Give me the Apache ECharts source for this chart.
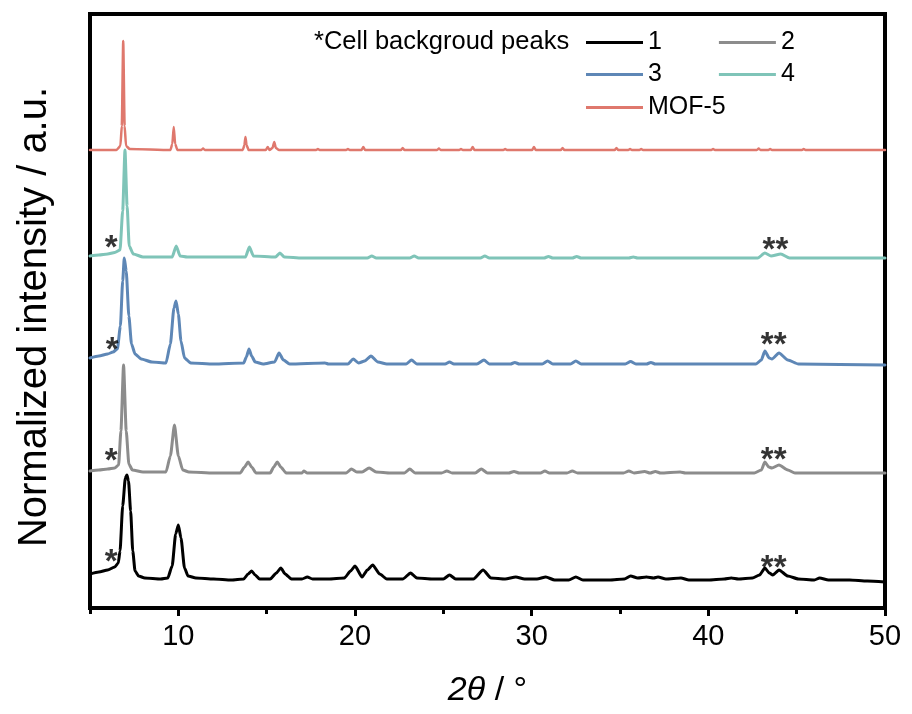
<!DOCTYPE html>
<html>
<head>
<meta charset="utf-8">
<script src="https://cdn.jsdelivr.net/npm/echarts@6/dist/echarts.min.js"></script>
<style>html,body{margin:0;padding:0;background:#fff}#c{width:912px;height:714px}</style>
</head>
<body>
<div id="c"></div>
<script>
// x: 2θ (deg); y: stacked normalized intensity (a.u., offsets included)
var sample1 = [[5,32],[5.5,34],[6,36],[6.4,39],[6.6,43],[6.7,55],[6.85,100],[7.0,128],[7.09,131],[7.18,125],[7.3,95],[7.42,55],[7.55,35],[7.75,30],[8.1,28],[9,27],[9.4,28],[9.65,40],[9.85,72],[10.0,81],[10.15,68],[10.35,38],[10.55,30],[11,28],[12,27],[13,26],[13.7,27],[13.95,32],[14.15,35],[14.35,31],[14.6,27],[15.2,27],[15.55,33],[15.8,38],[16.05,32],[16.4,27],[17,27],[17.3,29],[17.6,27],[18.5,27],[19.4,28],[19.75,35],[20.0,40],[20.4,29],[20.7,36],[21.0,41],[21.4,32],[21.8,27],[22.7,27],[23.15,33],[23.5,28],[24.4,27],[25.0,27],[25.35,31],[25.7,27],[26.7,27],[27.25,36],[27.7,28],[28.5,27],[29.1,29],[29.6,27],[30.3,27],[30.8,29],[31.3,26],[32.1,26],[32.5,29],[32.9,26],[34.4,26],[35.25,27],[35.6,30],[36.0,28],[36.5,29],[36.9,28],[37.15,29],[37.6,27],[38.45,28],[38.9,26],[40,26],[40.9,27],[41.3,28],[41.7,27],[42.5,28],[42.9,31],[43.2,38],[43.45,33],[43.65,31],[44.0,36],[44.5,30],[45.1,27],[46,26],[46.3,28],[46.8,26],[48,26],[49,25],[50,24]];
var sample2 = [[5,135],[5.5,136],[6,137],[6.4,138],[6.62,141],[6.75,175],[6.9,241],[7.05,175],[7.2,142],[7.4,136],[8,134],[9.3,134],[9.55,150],[9.78,181],[10.0,150],[10.25,136],[10.6,134],[12,133],[13.5,133],[13.75,139],[13.95,144],[14.15,139],[14.4,133],[15.2,133],[15.4,139],[15.6,144],[15.8,139],[16.1,133],[17.0,133],[17.1,135],[17.3,133],[19.5,133],[19.8,137],[20.1,134],[20.4,134],[20.8,138],[21.2,134],[22,133],[22.8,133],[23.1,137],[23.4,133],[24.9,133],[25.2,135],[25.5,133],[26.8,133],[27.15,137],[27.5,133],[28.7,133],[29.0,134.5],[29.3,133],[30.5,133],[30.75,135],[31.0,133],[32.0,133],[32.3,135],[32.6,133],[35.2,133],[35.5,135],[35.8,133],[36.4,134.5],[36.7,133],[37.0,134.5],[37.3,133],[38.4,134],[38.7,133],[42.6,133],[43.0,136],[43.2,144],[43.42,139],[43.6,138],[44.0,141],[44.5,136],[44.9,133],[50,133]];
var sample3 = [[5,248],[5.5,250],[6,252],[6.3,254],[6.55,257],[6.72,280],[6.85,325],[6.94,348],[7.05,335],[7.2,290],[7.35,262],[7.55,252],[7.9,247],[8.5,244],[9.3,243],[9.55,262],[9.75,298],[9.87,305],[10.0,292],[10.15,265],[10.35,248],[10.7,243],[12,242],[13.7,243],[13.85,249],[14.0,257],[14.15,250],[14.35,244],[14.8,242],[15.45,244],[15.7,253],[15.95,246],[16.3,242],[18.3,243],[18.5,242],[19.6,242],[19.9,247],[20.2,243],[20.55,245],[20.9,250],[21.3,244],[21.8,242],[22.9,242],[23.2,246],[23.5,242],[25.1,242],[25.35,244],[25.6,242],[26.9,242],[27.3,246],[27.6,242],[28.8,242],[29.05,243.5],[29.3,242],[30.6,242],[30.9,245],[31.2,242],[32.2,242],[32.5,245],[32.8,242],[35.3,242],[35.6,244.5],[35.9,242],[36.5,242],[36.75,243.5],[37.0,242],[42.7,242],[43.0,246],[43.2,255],[43.45,248],[43.6,247],[44.0,253],[44.5,246],[45.1,242],[50,241]];
var sample4 = [[5,350],[5.5,351],[6,352],[6.4,353.5],[6.7,356],[6.85,395],[6.98,456],[7.1,400],[7.22,360],[7.45,352],[8,349],[9.65,349],[9.88,360],[10.1,350],[10.5,349],[13.8,349],[14.02,359],[14.25,350],[15.5,349],[15.75,353],[16.0,349],[17,348],[20.7,348],[20.95,350],[21.2,348],[23.1,348],[23.35,350],[23.6,348],[27.1,348],[27.35,350],[27.6,348],[30.7,348],[30.95,349.5],[31.2,348],[32.3,348],[32.55,349.5],[32.8,348],[35.5,348],[35.75,349],[36.0,348],[42.8,348],[43.2,353],[43.55,350],[44.1,352],[44.6,348],[50,348]];
var mof5 = [[5,456],[6.5,456],[6.72,460],[6.8,480],[6.88,565],[6.96,480],[7.04,460],[7.25,457],[9.55,456],[9.66,462],[9.74,479],[9.82,462],[9.95,456],[11.3,456],[11.4,457.5],[11.5,456],[13.65,456],[13.74,461],[13.8,469],[13.86,461],[13.98,456],[14.95,456],[15.06,459],[15.16,456],[15.33,458],[15.43,464],[15.52,458],[15.7,456],[17.8,456],[17.9,457],[18.0,456],[19.5,456],[19.6,457],[19.7,456],[20.37,456],[20.47,459],[20.57,456],[22.6,456],[22.7,458],[22.8,456],[24.65,456],[24.75,457.5],[24.85,456],[25.9,456],[26.0,457],[26.1,456],[26.56,456],[26.66,459],[26.76,456],[28.4,456],[28.5,457],[28.6,456],[30.03,456],[30.13,459],[30.23,456],[31.65,456],[31.75,458],[31.85,456],[34.7,456],[34.8,458],[34.9,456],[35.47,456],[35.57,457],[35.67,456],[36.1,456],[36.2,457],[36.3,456],[40.17,456],[40.27,457],[40.37,456],[42.75,456],[42.85,457.5],[42.95,456],[43.4,456],[43.5,457],[43.6,456],[45.3,456],[45.4,457],[45.5,456],[50,456]];
var seriesNames = ['1','2','3','4','MOF-5'];
var singleStars = [[6.2,52],[6.2,153],[6.25,264],[6.2,366]];
var doubleStars = [[43.7,46],[43.7,154],[43.7,269],[43.8,364]];
var xTickLabels = [10,20,30,40,50];
var xMinorTicks = [5,15,25,35,45];
var noteText = '*Cell backgroud peaks';
var xTitle = '{it|2θ}{rm| / °}';
var yTitle = 'Normalized intensity / a.u.';

var colors = ['#000000','#8c8c8c','#5e87b6','#7fc4b8','#df786d'];
var FONT = "'Liberation Sans', Arial, sans-serif";
var chart = echarts.init(document.getElementById('c'));
var datasets = [sample1, sample2, sample3, sample4, mof5];
var series = datasets.map(function(d, i){
  return {
    name: seriesNames[i], type: 'line', data: d, symbol: 'none', smooth: 0.2, smoothMonotone: 'x',
    lineStyle: {color: colors[i], width: i === 4 ? 2.5 : 3, join: 'round', cap: 'round'},
    itemStyle: {color: colors[i]}, z: 2 + i, animation: false
  };
});
function starSeries(data, txt){
  return {type: 'scatter', data: data, symbolSize: 1, itemStyle: {color: 'rgba(0,0,0,0)'}, silent: true,
    label: {show: true, position: 'inside', formatter: txt, fontSize: 33, fontWeight: 'bold', fontFamily: FONT, color: '#000', offset: [0, 9]}, z: 10, animation: false};
}
series.push(starSeries(singleStars, '*'));
series.push(starSeries(doubleStars, '**'));

var legendBase = {
  itemWidth: 57, itemHeight: 3, itemGap: 57, orient: 'horizontal',
  textStyle: {fontSize: 25, fontFamily: FONT, color: '#000', padding: [0,0,0,0]},
  icon: 'rect', selectedMode: false, padding: 0
};
var option = {
  backgroundColor: '#fff',
  animation: false,
  title: {text: noteText, left: 314, top: 29, padding: 0,
    textStyle: {fontSize: 25.5, fontWeight: 'normal', fontFamily: FONT, color: '#000'}},
  legend: [
    Object.assign({}, legendBase, {data: seriesNames.slice(0,2), left: 586, top: 30}),
    Object.assign({}, legendBase, {data: seriesNames.slice(2,4), left: 586, top: 62}),
    Object.assign({}, legendBase, {data: seriesNames.slice(4,5), left: 586, top: 95})
  ],
  grid: {left: 90, right: 27, top: 14, bottom: 106, show: true, borderColor: '#000', borderWidth: 4, backgroundColor: 'transparent'},
  xAxis: [{
    type: 'value', min: 5, max: 50, interval: 5,
    axisLine: {show: false}, splitLine: {show: false},
    axisTick: {show: true, length: 10, lineStyle: {color: '#000', width: 3}, customValues: xTickLabels},
    axisLabel: {customValues: xTickLabels, fontSize: 29, fontFamily: FONT, color: '#000', margin: 14},
    name: xTitle, nameLocation: 'middle', nameGap: 66,
    nameTextStyle: {fontFamily: FONT, color: '#000', rich: {
      it: {fontSize: 34, fontStyle: 'italic', fontFamily: FONT, color: '#000'},
      rm: {fontSize: 34, fontFamily: FONT, color: '#000'}}}
  },{
    type: 'value', min: 5, max: 50, interval: 5, position: 'bottom',
    axisLine: {show: false}, splitLine: {show: false},
    axisTick: {show: true, length: 6, lineStyle: {color: '#000', width: 3}, customValues: xMinorTicks},
    axisLabel: {show: false}
  }],
  yAxis: {
    type: 'value', min: -2, max: 592,
    axisLine: {show: false}, axisTick: {show: false}, axisLabel: {show: false}, splitLine: {show: false},
    name: yTitle, nameLocation: 'middle', nameGap: 35, nameRotate: 90,
    nameTextStyle: {fontSize: 40, fontFamily: FONT, color: '#000', padding: [0, 12, 0, 0]}
  },
  series: series
};
chart.setOption(option);
</script>
</body>
</html>
